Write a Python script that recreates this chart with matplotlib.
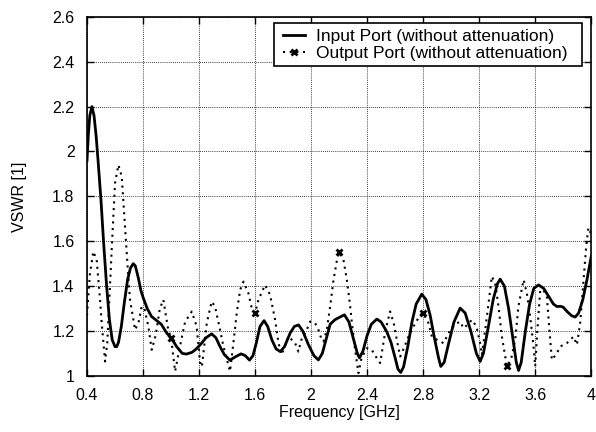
import numpy as np
import matplotlib
matplotlib.use('Agg')
import matplotlib.pyplot as plt
from matplotlib.patches import Rectangle

plt.rcParams['font.family'] = ['Liberation Sans', 'DejaVu Sans']

# input port (solid)
f_in = [0.400, 0.410, 0.420, 0.435, 0.450, 0.465, 0.480, 0.500, 0.520, 0.540, 0.560,
        0.580, 0.600, 0.612, 0.625, 0.645, 0.665, 0.690, 0.710, 0.730, 0.745, 0.765,
        0.785, 0.800, 0.830, 0.860, 0.900, 0.930, 0.970, 1.000, 1.040, 1.080, 1.110,
        1.150, 1.180, 1.210, 1.250, 1.290, 1.320, 1.350, 1.380, 1.420, 1.460, 1.500,
        1.530, 1.560, 1.585, 1.610, 1.635, 1.664, 1.690, 1.720, 1.750, 1.780, 1.810,
        1.850, 1.880, 1.910, 1.940, 1.980, 2.020, 2.052, 2.080, 2.110, 2.136, 2.170,
        2.200, 2.238, 2.270, 2.300, 2.330, 2.345, 2.370, 2.400, 2.430, 2.469, 2.500,
        2.540, 2.570, 2.600, 2.620, 2.640, 2.660, 2.690, 2.720, 2.750, 2.790, 2.820,
        2.850, 2.880, 2.910, 2.926, 2.950, 2.980, 3.020, 3.064, 3.100, 3.140, 3.180,
        3.207, 3.230, 3.260, 3.300, 3.330, 3.350, 3.380, 3.410, 3.440, 3.465, 3.481,
        3.500, 3.530, 3.560, 3.590, 3.624, 3.660, 3.700, 3.730, 3.755, 3.780, 3.800,
        3.830, 3.860, 3.886, 3.910, 3.940, 3.970, 4.000]
v_in = [1.96, 2.08, 2.16, 2.20, 2.16, 2.07, 1.95, 1.78, 1.58, 1.40, 1.25,
        1.16, 1.13, 1.13, 1.15, 1.22, 1.32, 1.43, 1.48, 1.50, 1.49, 1.44,
        1.38, 1.35, 1.30, 1.265, 1.245, 1.23, 1.19, 1.17, 1.13, 1.10, 1.097,
        1.105, 1.12, 1.14, 1.17, 1.187, 1.17, 1.13, 1.095, 1.07, 1.085, 1.098,
        1.09, 1.07, 1.09, 1.15, 1.22, 1.246, 1.22, 1.16, 1.12, 1.108, 1.13,
        1.19, 1.22, 1.227, 1.20, 1.14, 1.09, 1.071, 1.10, 1.17, 1.23, 1.25,
        1.26, 1.272, 1.24, 1.17, 1.10, 1.08, 1.11, 1.18, 1.23, 1.253, 1.24,
        1.197, 1.15, 1.08, 1.03, 1.015, 1.04, 1.13, 1.24, 1.32, 1.364, 1.34,
        1.27, 1.17, 1.08, 1.042, 1.06, 1.14, 1.24, 1.302, 1.28, 1.20, 1.10,
        1.064, 1.10, 1.20, 1.34, 1.41, 1.431, 1.40, 1.30, 1.17, 1.06, 1.024,
        1.06, 1.20, 1.32, 1.39, 1.405, 1.39, 1.35, 1.32, 1.309, 1.31, 1.306,
        1.285, 1.268, 1.262, 1.28, 1.34, 1.43, 1.532]

# output port (dotted, with markers)
f_out = [0.40, 0.42, 0.445, 0.469, 0.493, 0.505, 0.529, 0.545, 0.56, 0.576, 0.60, 0.624,
         0.648, 0.671, 0.69, 0.707, 0.743, 0.767, 0.79, 0.81, 0.838, 0.862, 0.89, 0.92,
         0.945, 0.98, 1.00, 1.029, 1.06, 1.10, 1.148, 1.183, 1.207, 1.22, 1.255, 1.29,
         1.314, 1.35, 1.374, 1.421, 1.445, 1.469, 1.493, 1.517, 1.552, 1.576, 1.60, 1.624,
         1.671, 1.707, 1.743, 1.767, 1.79, 1.838, 1.886, 1.909, 1.93, 1.969, 1.993, 2.029,
         2.052, 2.076, 2.088, 2.112, 2.136, 2.16, 2.183, 2.20, 2.231, 2.255, 2.279, 2.29,
         2.314, 2.338, 2.36, 2.398, 2.433, 2.469, 2.493, 2.53, 2.564, 2.59, 2.612, 2.636,
         2.66, 2.695, 2.731, 2.779, 2.80, 2.838, 2.862, 2.90, 2.945, 2.99, 3.03, 3.064,
         3.088, 3.12, 3.148, 3.18, 3.207, 3.219, 3.243, 3.267, 3.29, 3.314, 3.338, 3.362,
         3.386, 3.40, 3.43, 3.457, 3.48, 3.517, 3.54, 3.564, 3.588, 3.60, 3.615, 3.636,
         3.66, 3.683, 3.707, 3.719, 3.755, 3.779, 3.826, 3.874, 3.898, 3.921, 3.945,
         3.964, 3.98, 4.00]
v_out = [1.27, 1.45, 1.554, 1.517, 1.34, 1.235, 1.064, 1.15, 1.35, 1.56, 1.859, 1.94,
         1.888, 1.665, 1.487, 1.339, 1.205, 1.235, 1.309, 1.30, 1.22, 1.116, 1.18, 1.30,
         1.339, 1.205, 1.17, 1.02, 1.12, 1.24, 1.287, 1.22, 1.06, 1.04, 1.235, 1.331,
         1.309, 1.205, 1.131, 1.02, 1.146, 1.28, 1.383, 1.42, 1.369, 1.302, 1.28, 1.339,
         1.405, 1.361, 1.25, 1.146, 1.094, 1.175, 1.146, 1.108, 1.16, 1.205, 1.242, 1.235,
         1.205, 1.16, 1.153, 1.205, 1.309, 1.428, 1.51, 1.551, 1.517, 1.428, 1.309, 1.242,
         1.116, 1.012, 1.08, 1.123, 1.116, 1.079, 1.057, 1.20, 1.287, 1.235, 1.16, 1.086,
         1.12, 1.175, 1.22, 1.272, 1.28, 1.235, 1.175, 1.16, 1.146, 1.20, 1.23, 1.242,
         1.212, 1.23, 1.25, 1.22, 1.146, 1.094, 1.205, 1.324, 1.443, 1.413, 1.309, 1.175,
         1.086, 1.042, 1.08, 1.16, 1.309, 1.428, 1.369, 1.264, 1.131, 1.042, 1.20, 1.383,
         1.38, 1.354, 1.16, 1.071, 1.101, 1.131, 1.146, 1.175, 1.138, 1.235, 1.428,
         1.576, 1.66, 1.63]
mark_f = [1.00, 1.60, 2.20, 2.80, 3.40]

xticks = [0.4, 0.8, 1.2, 1.6, 2.0, 2.4, 2.8, 3.2, 3.6, 4.0]
xlabels = ['0.4', '0.8', '1.2', '1.6', '2', '2.4', '2.8', '3.2', '3.6', '4']
yticks = [1.0, 1.2, 1.4, 1.6, 1.8, 2.0, 2.2, 2.4, 2.6]
ylabels = ['1', '1.2', '1.4', '1.6', '1.8', '2', '2.2', '2.4', '2.6']

fig = plt.figure(figsize=(5.96, 4.32), dpi=100)
ax = fig.add_axes([0.146, 0.13, 0.846, 0.831])

mark_idx = [f_out.index(m) for m in mark_f]
ax.plot(f_in, v_in, color='black', lw=2, label='Input Port (without attenuation)', zorder=3)
ax.plot(f_out, v_out, color='black', lw=1.5, linestyle=(0, (1, 2.2)), marker='x',
        markevery=mark_idx, markersize=5, markeredgewidth=2,
        label='Output Port (without attenuation)', zorder=3)

ax.set_xlim(0.4, 4.0)
ax.set_ylim(1.0, 2.6)
ax.set_xticks(xticks)
ax.set_xticklabels(xlabels)
ax.set_yticks(yticks)
ax.set_yticklabels(ylabels)
ax.tick_params(direction='in', top=True, right=True, labelsize=11.5, length=5, width=1)
ax.tick_params(axis='x', pad=9)
ax.tick_params(axis='y', pad=9)
ax.grid(True, color='black', linestyle=(0, (1, 1.5)), linewidth=0.6)
for s in ax.spines.values():
    s.set_linewidth(1.2)

ax.set_xlabel('Frequency [GHz]', fontsize=11.5, labelpad=1)
ax.set_ylabel('VSWR [1]', fontsize=11.5, labelpad=18)

# legend box (gnuplot style, wide right margin)
ax.add_patch(Rectangle((0.371, 0.8635), 0.611, 0.1195, transform=ax.transAxes,
                       facecolor='white', edgecolor='black', lw=1.2, zorder=4))
leg = ax.legend(loc='upper left', bbox_to_anchor=(0.388, 0.966), fontsize=12.5,
                frameon=False, borderpad=0, labelspacing=0.12,
                handlelength=1.3, handletextpad=0.6, borderaxespad=0)
leg.set_zorder(5)

fig.savefig('out.png', dpi=100)
